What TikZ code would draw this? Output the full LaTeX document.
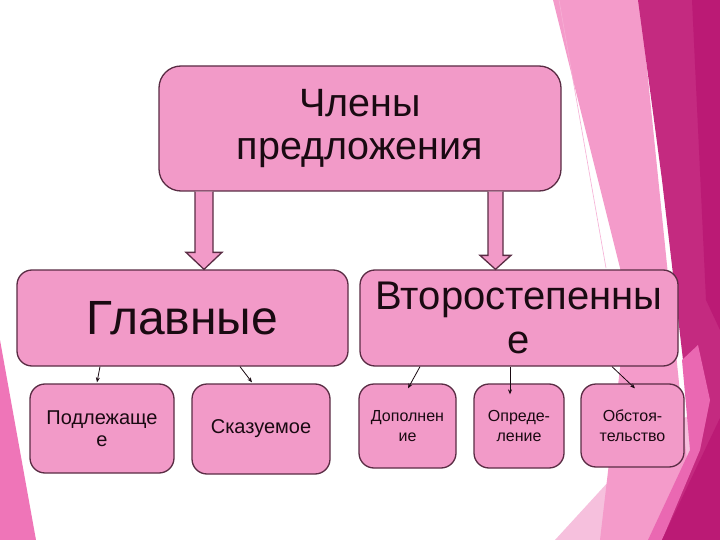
\documentclass[tikz,border=0pt]{standalone}
\usepackage{fontspec}
\setmainfont{Liberation Sans}
\usetikzlibrary{calc,arrows.meta}
\definecolor{boxpink}{HTML}{F29AC8}
\definecolor{boxline}{HTML}{5A2C44}
\definecolor{txt}{HTML}{1A0A12}
\definecolor{bandpink}{HTML}{F49BCA}
\definecolor{palepink}{HTML}{F6C0DD}
\definecolor{darkmag}{HTML}{C42A80}
\definecolor{darkmagB}{HTML}{BB1A75}
\definecolor{midpink}{HTML}{EA68B2}
\definecolor{leftpink}{HTML}{EF75B8}
\tikzset{
  box/.style={draw=boxline, line width=1.3pt, fill=boxpink, rounded corners=#1,
    inner sep=0pt, align=center, text=txt},
  box/.default=15pt,
  barrow/.style={draw=boxline, line width=1.3pt, fill=boxpink, line join=miter},
  thinarrow/.style={draw=txt, line width=0.8pt, -{Stealth[length=5pt,width=4pt]}},
}
\begin{document}
\begin{tikzpicture}[x=1pt,y=-1pt]
\useasboundingbox (0,0) rectangle (720,540);
\fill[white] (0,0) rectangle (720,540);
% background decorations
\fill[palepink] (555,540) -- (610,480) -- (680,420) -- (720,400) -- (720,540) -- cycle;
\fill[bandpink] (553,0) -- (640,0) -- (695,540) -- (600,540) -- (628,300) -- cycle;
\draw[color=bandpink!80!white, line width=0.6pt] (559,0) -- (606,268);
\fill[darkmag] (638,0) -- (720,0) -- (720,540) -- (650,540) -- (700,440) -- (683,360) -- (662,180) -- cycle;
\fill[darkmagB] (692,0) -- (720,0) -- (720,330) -- (706,300) -- cycle;
\fill[midpink] (682,360) -- (698,345) -- (710,400) -- (700,450) -- (662,540) -- (648,540) -- (690,450) -- cycle;
\fill[darkmagB] (662,540) -- (720,418) -- (720,540) -- cycle;
\fill[leftpink] (0,340) -- (36,540) -- (0,540) -- cycle;
% boxes
\node[box=22pt, minimum width=402pt, minimum height=125pt,
  font=\fontsize{39.5}{43}\selectfont] (top) at (360,128.5) {Члены\\предложения};
\node[box, minimum width=331pt, minimum height=96pt,
  font=\fontsize{48}{52}\selectfont] (main) at (182.5,318) {Главные};
\node[box, minimum width=318pt, minimum height=96pt,
  font=\fontsize{40}{44}\selectfont] (sec) at (519,318) {Второстепенны\\е};
\node[box, minimum width=144pt, minimum height=89pt,
  font=\fontsize{20}{22}\selectfont] (s1) at (102,428.5) {Подлежаще\\е};
\node[box, minimum width=138pt, minimum height=90pt,
  font=\fontsize{20}{22}\selectfont] (s2) at (261,429) {Сказуемое};
\node[box, minimum width=97pt, minimum height=84pt,
  font=\fontsize{16}{20}\selectfont] (s3) at (407.5,426) {Дополнен\\ие};
\node[box, minimum width=90pt, minimum height=84pt,
  font=\fontsize{16}{20}\selectfont] (s4) at (519,426) {Опреде-\\ление};
\node[box, minimum width=103pt, minimum height=83pt,
  font=\fontsize{16}{20}\selectfont] (s5) at (632.5,425.5) {Обстоя-\\тельство};
% block arrows
\coordinate (la) at (204,0);
\coordinate (ra) at (495.5,0);
\path (la |- top.south) coordinate (a1s) (la |- main.north) coordinate (a1e);
\path (ra |- top.south) coordinate (a2s) (ra |- sec.north) coordinate (a2e);
\draw[barrow] ($(a1s)+(-9,0)$) -- ($(a1e)+(-9,-17)$) -- ($(a1e)+(-18,-17)$) -- (a1e)
  -- ($(a1e)+(18,-17)$) -- ($(a1e)+(9,-17)$) -- ($(a1s)+(9,0)$);
\draw[barrow] ($(a2s)+(-7.5,0)$) -- ($(a2e)+(-7.5,-14)$) -- ($(a2e)+(-15.5,-14)$) -- (a2e)
  -- ($(a2e)+(15.5,-14)$) -- ($(a2e)+(7.5,-14)$) -- ($(a2s)+(7.5,0)$);
% small arrows
\coordinate (m1) at (100,0); \coordinate (t1) at (97,0);
\coordinate (m2) at (240,0); \coordinate (t2) at (252,0);
\coordinate (m3) at (420,0); \coordinate (t3) at (408,0);
\coordinate (m4) at (510,0);
\coordinate (m5) at (612,0); \coordinate (t5) at (635,0);
\draw[thinarrow] (m1 |- main.south) -- ($(t1 |- s1.north)+(0,-1)$);
\draw[thinarrow] (m2 |- main.south) -- ($(t2 |- s2.north)+(0,-1)$);
\draw[thinarrow] (m3 |- sec.south) -- ($(t3 |- s3.north)+(0,5)$);
\draw[thinarrow] (m4 |- sec.south) -- ($(m4 |- s4.north)+(0,11)$);
\draw[thinarrow] (m5 |- sec.south) -- ($(t5 |- s5.north)+(0,5)$);
\end{tikzpicture}
\end{document}
